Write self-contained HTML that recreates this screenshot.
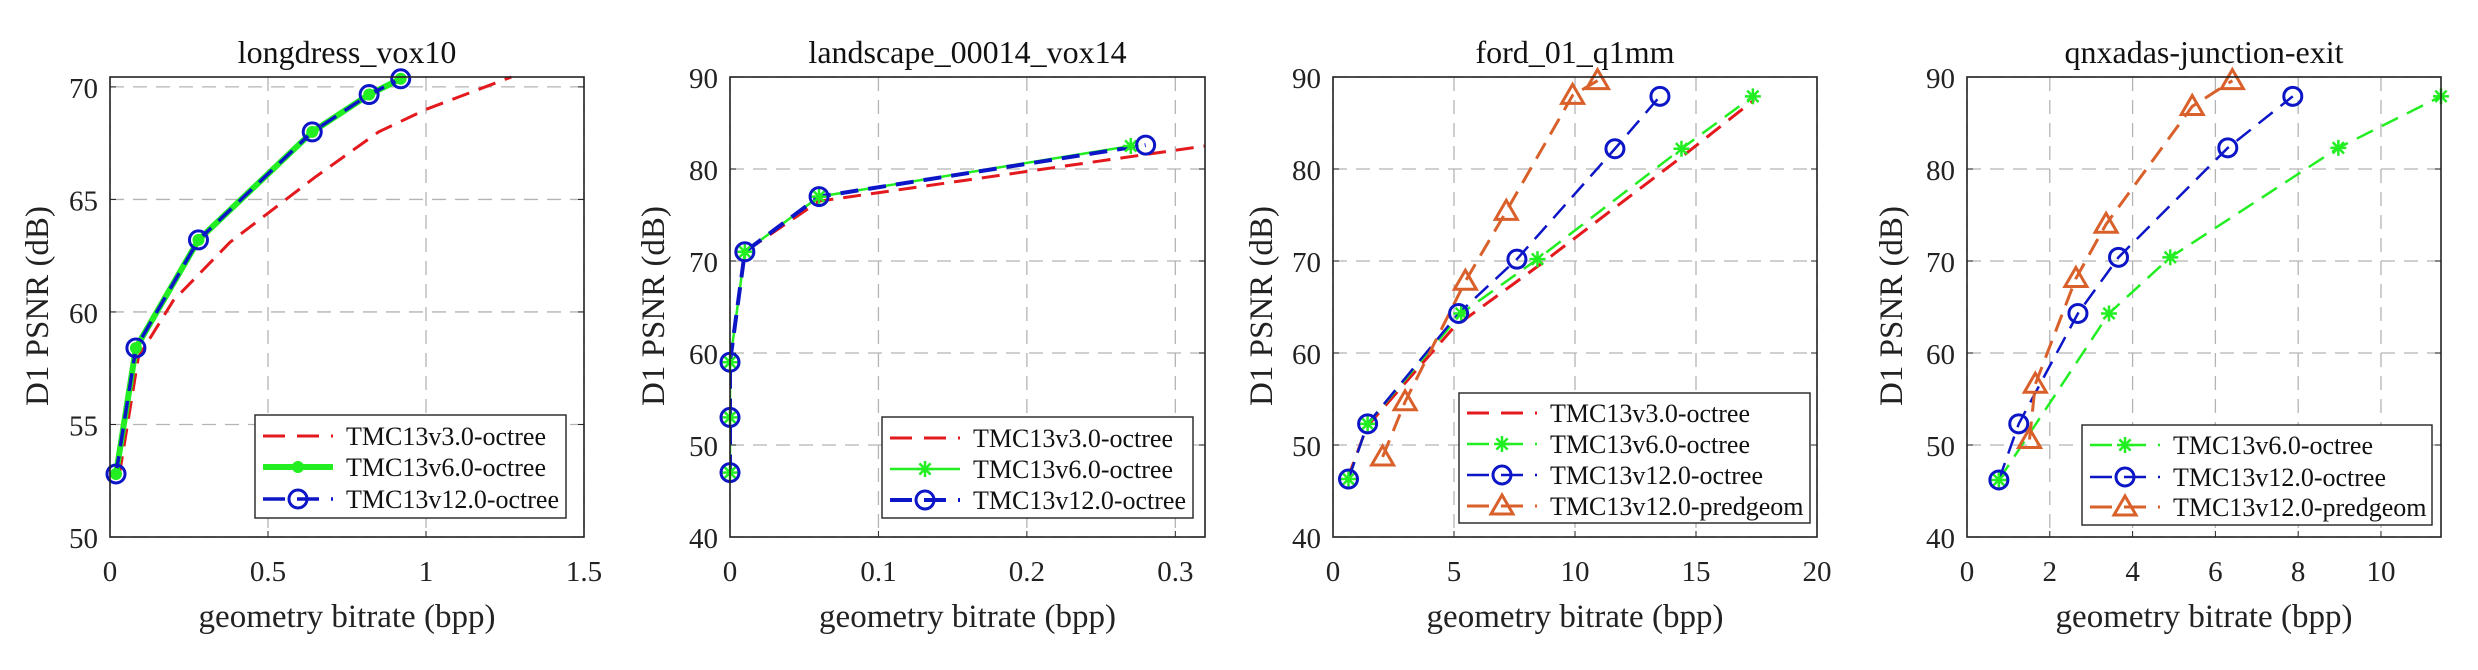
<!DOCTYPE html>
<html><head><meta charset="utf-8">
<style>
html,body{margin:0;padding:0;background:#fff;}
svg{display:block;font-family:"Liberation Serif","Times New Roman",serif;}
</style></head>
<body>
<svg id="fig" width="2478" height="670" viewBox="0 0 2478 670" xmlns="http://www.w3.org/2000/svg"></svg>
<script>
// ---- data (chart 1: longdress_vox10) ----
const c1_v3_x = [0.03, 0.09, 0.2, 0.38, 0.65, 0.85, 1.0, 1.27];
const c1_v3_y = [52.8, 58.0, 60.5, 63.1, 66.0, 68.0, 69.0, 70.44];
const c1_v6_x = [0.019, 0.082, 0.28, 0.64, 0.82, 0.92];
const c1_v6_y = [52.8, 58.4, 63.2, 68.0, 69.66, 70.36];
const c1_v12_x = [0.019, 0.082, 0.28, 0.64, 0.82, 0.92];
const c1_v12_y = [52.8, 58.4, 63.2, 68.0, 69.66, 70.36];
const c1_xticks = ["0", "0.5", "1", "1.5"];
const c1_yticks = ["50", "55", "60", "65", "70"];
// ---- chart 2: landscape_00014_vox14 ----
const c2_v3_x = [0, 0, 0, 0.01, 0.06, 0.32];
const c2_v3_y = [47, 53, 59, 71, 76.5, 82.5];
const c2_v6_x = [0, 0, 0, 0.01, 0.06, 0.27];
const c2_v6_y = [47, 53, 59, 71, 77, 82.5];
const c2_v12_x = [0, 0, 0, 0.01, 0.06, 0.28];
const c2_v12_y = [47, 53, 59, 71, 77, 82.6];
const c2_xticks = ["0", "0.1", "0.2", "0.3"];
const c2_yticks = ["40", "50", "60", "70", "80", "90"];
// ---- chart 3: ford_01_q1mm ----
const c3_v3_x = [0.6, 1.4, 5.0, 8.5, 14.5, 17.4];
const c3_v3_y = [46.3, 52.0, 62.8, 69.5, 81.5, 87.5];
const c3_v6_x = [0.64, 1.43, 5.3, 8.45, 14.4, 17.35];
const c3_v6_y = [46.3, 52.3, 64.3, 70.2, 82.2, 87.9];
const c3_v12_x = [0.64, 1.43, 5.19, 7.6, 11.65, 13.51];
const c3_v12_y = [46.3, 52.3, 64.3, 70.2, 82.2, 87.9];
const c3_pg_x = [2.05, 2.98, 5.47, 7.16, 9.9, 10.93];
const c3_pg_y = [48.7, 54.7, 67.8, 75.4, 88.0, 89.6];
const c3_xticks = ["0", "5", "10", "15", "20"];
const c3_yticks = ["40", "50", "60", "70", "80", "90"];
// ---- chart 4: qnxadas-junction-exit ----
const c4_v6_x = [0.77, 3.43, 4.91, 8.97, 11.45];
const c4_v6_y = [46.2, 64.3, 70.4, 82.3, 87.9];
const c4_v12_x = [0.77, 1.25, 2.68, 3.66, 6.3, 7.87];
const c4_v12_y = [46.2, 52.3, 64.3, 70.4, 82.3, 87.9];
const c4_pg_x = [1.51, 1.65, 2.63, 3.36, 5.44, 6.41];
const c4_pg_y = [50.6, 56.6, 68.1, 74.0, 86.8, 89.6];
const c4_xticks = ["0", "2", "4", "6", "8", "10"];
const c4_yticks = ["40", "50", "60", "70", "80", "90"];

const NS = "http://www.w3.org/2000/svg";
const svg = document.getElementById('fig');
const RED = "#e3191e", GREEN = "#22ee22", BLUE = "#0c16c6", ORANGE = "#d9602a";
function mk(tag, attrs, parent) {
  const e = document.createElementNS(NS, tag);
  for (const k in attrs) e.setAttribute(k, attrs[k]);
  (parent || svg).appendChild(e);
  return e;
}
function marker(g, type, x, y, color, big) {
  let m;
  if (type === 'o') {
    m = mk('circle', {cx: x, cy: y, r: big ? 9 : 9, fill: 'none', stroke: color, 'stroke-width': 3}, g);
  } else if (type === 'dot') {
    m = mk('circle', {cx: x, cy: y, r: 6, fill: color}, g);
  } else if (type === '*') {
    m = mk('g', {}, g);
    for (let a = 0; a < 4; a++) {
      const ang = a * Math.PI / 4, r = 8;
      mk('line', {x1: x - r * Math.cos(ang), y1: y - r * Math.sin(ang), x2: x + r * Math.cos(ang), y2: y + r * Math.sin(ang), stroke: color, 'stroke-width': 2.5}, m);
    }
  } else if (type === '^') {
    m = mk('polygon', {points: `${x},${y - 11} ${x - 11},${y + 8} ${x + 11},${y + 8}`, fill: 'none', stroke: color, 'stroke-width': 3}, g);
  }
  
  
}
function chart(cfg) {
  const g = mk('g', {});
  
  
  const L = cfg.left, R = cfg.right, T = 77, B = 537;
  const sx = v => L + (v - cfg.xmin) / (cfg.xmax - cfg.xmin) * (R - L);
  const sy = v => B - (v - cfg.ymin) / (cfg.ymax - cfg.ymin) * (B - T);
  const clipId = 'clip-' + cfg.name;
  const cp = mk('clipPath', {id: clipId}, g);
  mk('rect', {x: L, y: T - 12, width: R - L + 12, height: B - T + 12}, cp);
  // grid
  cfg.xticks.forEach(t => {
    const x = sx(parseFloat(t));
    const gl = mk('line', {x1: x, y1: T, x2: x, y2: B, stroke: '#b4b4b4', 'stroke-width': 1.3, 'stroke-dasharray': '14,9'}, g);
    
    
    const tl = mk('text', {x: x, y: 581, 'text-anchor': 'middle', 'font-size': 29, fill: '#222'}, g);
    tl.textContent = t;
    
    
    mk('line', {x1: x, y1: B, x2: x, y2: B - 6, stroke: '#222', 'stroke-width': 1}, g);
  });
  cfg.yticks.forEach(t => {
    const y = sy(parseFloat(t));
    const gl = mk('line', {x1: L, y1: y, x2: R, y2: y, stroke: '#b4b4b4', 'stroke-width': 1.3, 'stroke-dasharray': '14,9'}, g);
    
    
    const tl = mk('text', {x: L - 12, y: y + 11, 'text-anchor': 'end', 'font-size': 29, fill: '#222'}, g);
    tl.textContent = t;
    
    
    mk('line', {x1: L, y1: y, x2: L + 6, y2: y, stroke: '#222', 'stroke-width': 1}, g);
    mk('line', {x1: R, y1: y, x2: R - 6, y2: y, stroke: '#222', 'stroke-width': 1}, g);
  });
  // series
  const sg = mk('g', {'clip-path': `url(#${clipId})`}, g);
  cfg.series.forEach(s => {
    const pts = s.x.map((v, i) => sx(v) + ',' + sy(s.y[i])).join(' ');
    const pl = mk('polyline', {points: pts, fill: 'none', stroke: s.color, 'stroke-width': s.w, 'stroke-dasharray': s.dash || 'none', 'stroke-linejoin': 'round'}, sg);
    
    
  });
  cfg.series.forEach(s => {
    if (!s.m) return;
    s.x.forEach((v, i) => marker(g, s.m, sx(v), sy(s.y[i]), s.color));
  });
  // box
  const box = mk('rect', {x: L, y: T, width: R - L, height: B - T, fill: 'none', stroke: '#222', 'stroke-width': 1.6}, g);
  
  
  // title & labels
  const cx = (L + R) / 2;
  const ti = mk('text', {x: cx, y: 63, 'text-anchor': 'middle', 'font-size': 32, fill: '#111'}, g);
  ti.textContent = cfg.title;
  
  
  const xl = mk('text', {x: cx, y: 627, 'text-anchor': 'middle', 'font-size': 33, fill: '#222'}, g);
  xl.textContent = 'geometry bitrate (bpp)';
  
  
  const yl = mk('text', {x: 0, y: 0, 'text-anchor': 'middle', 'font-size': 33, fill: '#222', transform: `translate(${cfg.ylx},306) rotate(-90)`}, g);
  yl.textContent = 'D1 PSNR (dB)';
  
  
  // legend
  const lg = mk('g', {}, g);
  
  
  const lb = cfg.legend;
  mk('rect', {x: lb.x, y: lb.y, width: lb.w, height: lb.h, fill: '#fff', stroke: '#222', 'stroke-width': 1.4}, lg);
  cfg.series.forEach((s, i) => {
    const y = lb.rows[i];
    const e = mk('g', {}, lg);
    
    
    const x1 = lb.x + 8, x2 = lb.x + 78;
    mk('line', {x1: x1, y1: y, x2: x2, y2: y, stroke: s.color, 'stroke-width': s.w, 'stroke-dasharray': s.dash ? '22,12' : 'none'}, e);
    if (s.m) marker(e, s.m, (x1 + x2) / 2, y, s.color);
    const t = mk('text', {x: lb.x + 91, y: y + 9, 'font-size': 26, fill: '#111'}, e);
    t.textContent = s.label;
  });
}
const D = '18,10';
chart({name: 'chart-longdress', title: 'longdress_vox10', left: 110, right: 584, xmin: 0, xmax: 1.5, ymin: 50, ymax: 70.44, ylx: 48,
  xticks: c1_xticks, yticks: c1_yticks,
  series: [
    {id: 'v3', label: 'TMC13v3.0-octree', x: c1_v3_x, y: c1_v3_y, color: RED, w: 3, dash: D},
    {id: 'v6', label: 'TMC13v6.0-octree', x: c1_v6_x, y: c1_v6_y, color: GREEN, w: 6, m: 'dot'},
    {id: 'v12', label: 'TMC13v12.0-octree', x: c1_v12_x, y: c1_v12_y, color: BLUE, w: 3.5, dash: D, m: 'o'}],
  legend: {x: 255, y: 415, w: 311, h: 103, rows: [436, 467, 499]}});
chart({name: 'chart-landscape', title: 'landscape_00014_vox14', left: 730, right: 1205, xmin: 0, xmax: 0.32, ymin: 40, ymax: 90, ylx: 664,
  xticks: c2_xticks, yticks: c2_yticks,
  series: [
    {id: 'v3', label: 'TMC13v3.0-octree', x: c2_v3_x, y: c2_v3_y, color: RED, w: 3, dash: D},
    {id: 'v6', label: 'TMC13v6.0-octree', x: c2_v6_x, y: c2_v6_y, color: GREEN, w: 2.5, m: '*'},
    {id: 'v12', label: 'TMC13v12.0-octree', x: c2_v12_x, y: c2_v12_y, color: BLUE, w: 4, dash: D, m: 'o'}],
  legend: {x: 882, y: 417, w: 311, h: 101, rows: [438, 469, 500]}});
chart({name: 'chart-ford', title: 'ford_01_q1mm', left: 1333, right: 1817, xmin: 0, xmax: 20, ymin: 40, ymax: 90, ylx: 1272,
  xticks: c3_xticks, yticks: c3_yticks,
  series: [
    {id: 'v3', label: 'TMC13v3.0-octree', x: c3_v3_x, y: c3_v3_y, color: RED, w: 3, dash: D},
    {id: 'v6', label: 'TMC13v6.0-octree', x: c3_v6_x, y: c3_v6_y, color: GREEN, w: 2.5, dash: D, m: '*'},
    {id: 'v12', label: 'TMC13v12.0-octree', x: c3_v12_x, y: c3_v12_y, color: BLUE, w: 2.5, dash: D, m: 'o'},
    {id: 'pg', label: 'TMC13v12.0-predgeom', x: c3_pg_x, y: c3_pg_y, color: ORANGE, w: 3, dash: D, m: '^'}],
  legend: {x: 1459, y: 393, w: 351, h: 130, rows: [413, 444, 475, 506]}});
chart({name: 'chart-qnxadas', title: 'qnxadas-junction-exit', left: 1967, right: 2441, xmin: 0, xmax: 11.45, ymin: 40, ymax: 90, ylx: 1902,
  xticks: c4_xticks, yticks: c4_yticks,
  series: [
    {id: 'v6', label: 'TMC13v6.0-octree', x: c4_v6_x, y: c4_v6_y, color: GREEN, w: 2.5, dash: D, m: '*'},
    {id: 'v12', label: 'TMC13v12.0-octree', x: c4_v12_x, y: c4_v12_y, color: BLUE, w: 2.5, dash: D, m: 'o'},
    {id: 'pg', label: 'TMC13v12.0-predgeom', x: c4_pg_x, y: c4_pg_y, color: ORANGE, w: 3, dash: D, m: '^'}],
  legend: {x: 2082, y: 425, w: 350, h: 100, rows: [445, 477, 507]}});
</script>
</body></html>
